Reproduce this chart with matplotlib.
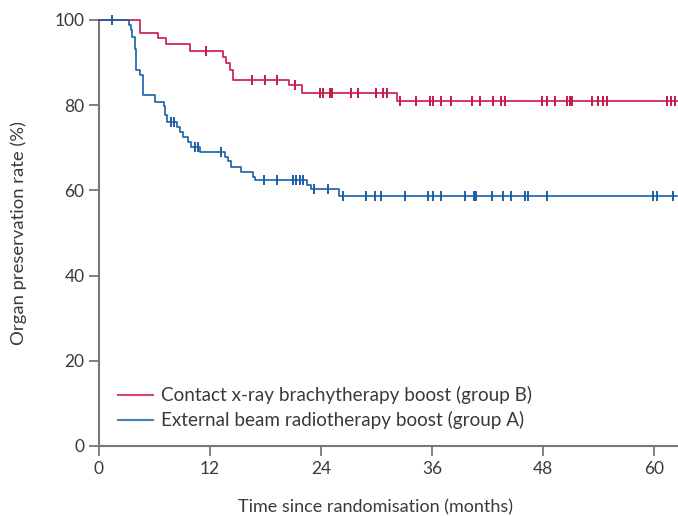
import matplotlib
matplotlib.use('Agg')
import matplotlib.pyplot as plt
import numpy as np

# Kaplan-Meier data: event times (months) and survival (%) after each event
time_b = [4.4, 6.4, 7.2, 9.8, 13.4, 13.7, 14.2, 14.5, 20.5, 21.9, 32.2]
surv_b = [97.0, 95.7, 94.4, 92.7, 91.4, 89.8, 88.3, 86.0, 84.7, 82.9, 81.0]
cens_b = [11.6, 16.5, 17.9, 19.3, 21.2, 23.9, 24.2, 25.0, 25.2, 27.3, 28.0,
          30.0, 30.7, 31.1, 32.6, 34.3, 35.8, 36.1, 37.0, 38.1, 40.3, 41.2,
          42.6, 43.5, 43.9, 47.9, 48.4, 49.3, 50.6, 50.9, 51.1, 53.3, 54.0,
          54.5, 54.9, 61.4, 61.9, 62.3]

time_a = [3.2, 3.5, 3.6, 3.9, 4.0, 4.4, 4.8, 6.1, 7.0, 7.1, 7.3, 8.4, 8.8,
          9.1, 9.65, 10.0, 10.9, 13.6, 14.0, 14.3, 15.4, 16.7, 16.9, 22.5,
          22.9, 25.9]
surv_a = [98.8, 97.6, 96.1, 93.3, 88.3, 87.1, 82.4, 80.8, 79.7, 77.7, 76.1,
          75.0, 73.8, 72.6, 71.4, 70.3, 68.9, 67.9, 66.8, 65.6, 64.4, 63.2,
          62.4, 61.3, 60.3, 58.6]
cens_a = [1.4, 7.8, 8.1, 10.4, 10.7, 13.2, 17.8, 19.3, 21.0, 21.3, 21.7,
          22.1, 23.2, 24.8, 26.4, 28.9, 29.8, 30.5, 33.1, 35.6, 36.1, 37.0,
          39.6, 40.5, 40.8, 42.5, 43.7, 44.6, 46.1, 46.4, 48.4, 59.9, 60.3,
          62.1]

labels = ['Contact x-ray brachytherapy boost (group B)',
          'External beam radiotherapy boost (group A)']
colors = ['#c8194b', '#1b5fa8']
x_ticks = [0, 12, 24, 36, 48, 60]
y_ticks = [0, 20, 40, 60, 80, 100]
t_end = 62.5

text_col = '#3a3a3a'
axis_col = '#777777'
plt.rcParams['font.family'] = ['Lato', 'DejaVu Sans']
plt.rcParams['text.color'] = text_col

fig = plt.figure(figsize=(6.78, 5.16), dpi=100)
ax = fig.add_axes([99 / 678, 70 / 516, 578 / 678, 426 / 516])


def km_curve(ax, times, surv, cens, color, label):
    t = np.concatenate([[0], times, [t_end]])
    s = np.concatenate([[100], surv, [surv[-1]]])
    ax.step(t, s, where='post', color=color, lw=1.2, label=label,
            clip_on=False, zorder=3)
    # censoring ticks sit on the curve level at that time
    idx = np.searchsorted(t, cens, side='right') - 1
    ax.plot(cens, s[idx], ls='none', marker='|', ms=7, mew=1.4,
            color=color, clip_on=False, zorder=4)


km_curve(ax, time_b, surv_b, cens_b, colors[0], labels[0])
km_curve(ax, time_a, surv_a, cens_a, colors[1], labels[1])

ax.set_xlim(0, t_end)
ax.set_ylim(0, 100)
ax.set_xticks(x_ticks)
ax.set_yticks(y_ticks)
ax.tick_params(colors=axis_col, labelcolor=text_col, labelsize=12.5,
               length=7, width=1.3)
for side in ['top', 'right']:
    ax.spines[side].set_visible(False)
for side in ['left', 'bottom']:
    ax.spines[side].set_color(axis_col)
    ax.spines[side].set_linewidth(1.5)

ax.set_xlabel('Time since randomisation (months)', fontsize=13,
              color=text_col)
ax.xaxis.set_label_coords(0.479, -0.125)
ax.set_ylabel('Organ preservation rate (%)', fontsize=13.3, color=text_col)
ax.yaxis.set_label_coords(-0.125, 0.5)

leg = ax.legend(loc='lower left', bbox_to_anchor=(0.01, 0.008), frameon=False,
                fontsize=13.6, handlelength=1.85, handletextpad=0.4,
                labelspacing=0.38, borderaxespad=0.3)
for h in leg.get_lines():
    h.set_linewidth(1.5)
    h.set_alpha(0.8)

fig.savefig('out.png', dpi=100)
